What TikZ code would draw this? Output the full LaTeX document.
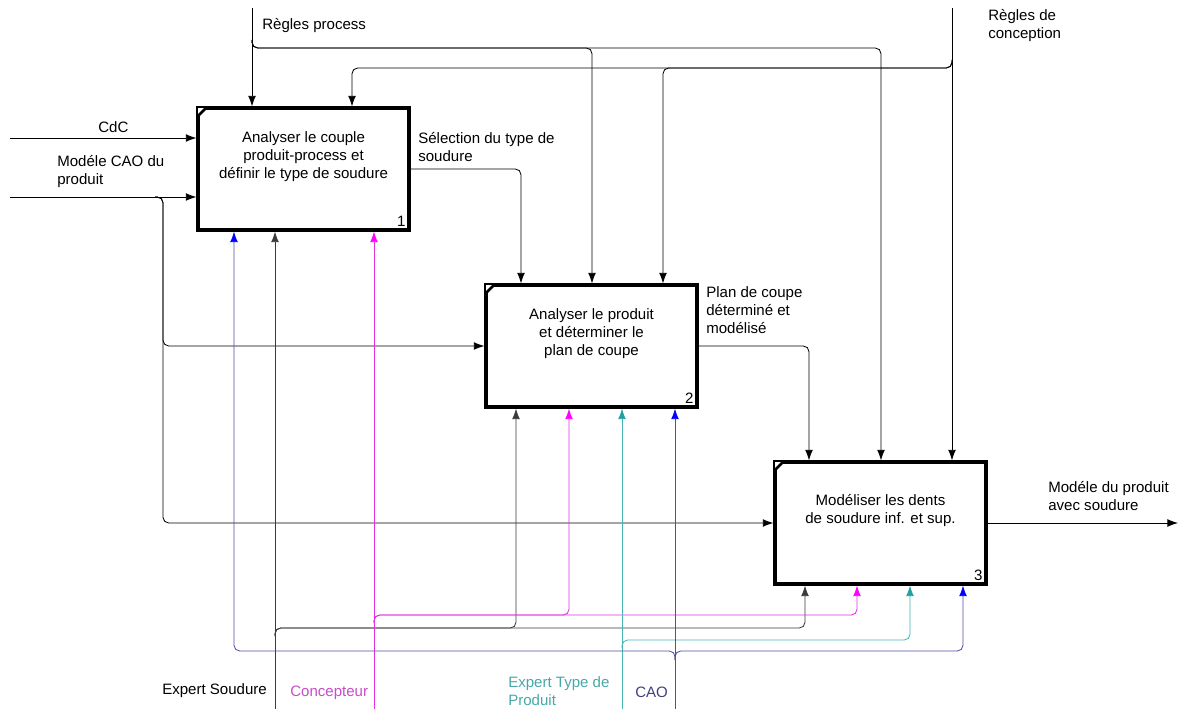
\documentclass[tikz,border=0pt]{standalone}
\usepackage{fontspec}
\setmainfont{Liberation Sans}
\usetikzlibrary{arrows.meta}
\definecolor{mechgray}{HTML}{3A3A3A}
\definecolor{conceptline}{HTML}{E030E0}
\definecolor{concepthead}{HTML}{FF00FF}
\definecolor{concepttext}{HTML}{C84CC8}
\definecolor{typeline}{HTML}{48B4B4}
\definecolor{typehead}{HTML}{20A0A0}
\definecolor{typetext}{HTML}{48A8A8}
\definecolor{caoline}{HTML}{5050A0}
\definecolor{caohead}{HTML}{0000FF}
\definecolor{caotext}{HTML}{404080}
\newcommand{\labelfont}{\fontsize{10.7}{12.8}\selectfont}
\tikzset{
  actbox/.style={draw, line width=2.2pt, minimum width=5.275cm, minimum height=3.05cm, inner sep=0pt},
  acttext/.style={align=center, inner sep=0pt, font=\labelfont},
  actnum/.style={anchor=south east, inner sep=3.5pt, font=\labelfont},
  lbl/.style={anchor=west, align=left, inner sep=0pt, font=\labelfont},
  flow/.style={draw=black, line width=0.6pt, rounded corners=4pt, -{Latex[length=7.5pt,width=5.5pt]}},
  mechflow/.style={flow, draw=mechgray},
  conceptflow/.style={flow, draw=conceptline, -{Latex[length=7.5pt,width=5.5pt,color=concepthead]}},
  typeflow/.style={flow, draw=typeline, -{Latex[length=7.5pt,width=5.5pt,color=typehead]}},
  caoflow/.style={flow, draw=caoline, -{Latex[length=7.5pt,width=5.5pt,color=caohead]}},
}

\begin{document}
\begin{tikzpicture}[x=0.025cm, y=-0.025cm]
    \useasboundingbox (0,0) rectangle (1180,709);
    \node[actbox] (a1) at (303.5,169) {};
    \node[actbox] (a2) at (591.5,346) {};
    \node[actbox] (a3) at (880.5,523) {};
    \foreach \b/\n in {a1/1,a2/2,a3/3} {
      \fill (\b.north west) -- ++(13,0) -- ++(-13,13) -- cycle;
      \fill[white] (\b.north west) ++(1.6,1.6) -- ++(5.8,0) -- ++(-5.8,5.8) -- cycle;
      \node[actnum] (\b num) at (\b.south east) {\n};
    }
    \node[acttext] (t1) at ([yshift=3mm]a1.center) {Analyser le couple\\produit-process et\\définir le type de soudure};
    \node[acttext] (t2) at ([yshift=3mm]a2.center) {Analyser le produit\\et déterminer le\\plan de coupe};
    \node[acttext] (t3) at ([yshift=3mm]a3.center) {Modéliser les dents\\de soudure inf. et sup.};

    \coordinate (cdc) at (10,138);
    \coordinate (modcao) at (10,197);
    \coordinate (rp) at (252,8);
    \coordinate (rc) at (952,8);
    \coordinate (es) at (275,712);
    \coordinate (co) at (374,712);
    \coordinate (et) at (622,712);
    \coordinate (ca) at (675,712);
    \coordinate (out) at (1178,523);

    \draw[flow] (cdc) -- (cdc -| a1.west);
    \draw[flow] (modcao) -- (modcao -| a1.west);
    \draw[flow] (155,197) -- (163,197) -- (163,346) -- (a2.west);
    \draw[flow] (155,197) -- (163,197) -- (163,523) -- (a3.west);

    \draw[flow] (a1.east) -- (521,169) -- (a2.north -| 521,0);
    \draw[flow] (a2.east) -- (809,346) -- (a3.north -| 809,0);
    \draw[flow] (a3.east) -- (out);

    \draw[flow] (rp) -- (rp |- a1.north);
    \draw[flow] (252,40) -- (252,48) -- (592,48) -- (a2.north -| 592,0);
    \draw[flow] (252,40) -- (252,48) -- (881,48) -- (a3.north -| 881,0);
    \draw[flow] (rc) -- (rc |- a3.north);
    \draw[flow] (952,60) -- (952,68) -- (352,68) -- (a1.north -| 352,0);
    \draw[flow] (952,60) -- (952,68) -- (663,68) -- (a2.north -| 663,0);

    \draw[mechflow] (es) -- (es |- a1.south);
    \draw[mechflow] (275,636) -- (275,628) -- (516,628) -- (a2.south -| 516,0);
    \draw[mechflow] (275,636) -- (275,628) -- (805,628) -- (a3.south -| 805,0);
    \draw[conceptflow] (co) -- (co |- a1.south);
    \draw[conceptflow] (374,623) -- (374,615) -- (569,615) -- (a2.south -| 569,0);
    \draw[conceptflow] (374,623) -- (374,615) -- (857,615) -- (a3.south -| 857,0);
    \draw[typeflow] (et) -- (et |- a2.south);
    \draw[typeflow] (622,648) -- (622,640) -- (910,640) -- (a3.south -| 910,0);
    \draw[caoflow] (ca) -- (ca |- a2.south);
    \draw[caoflow] (675,660) -- (675,651) -- (234,651) -- (a1.south -| 234,0);
    \draw[caoflow] (675,660) -- (675,651) -- (963,651) -- (a3.south -| 963,0);

    \node[lbl] (lcdc) at (98,127) {CdC};
    \node[lbl] (lmodcao) at (57,172) {Modéle CAO du\\produit};
    \node[lbl] (lsel) at (418,147) {Sélection du type de\\soudure};
    \node[lbl] (lplan) at (706,310) {Plan de coupe\\déterminé et\\modélisé};
    \node[lbl] (lout) at (1048,496) {Modéle du produit\\avec soudure};
    \node[lbl] (lrp) at (262,26) {Règles process};
    \node[lbl] (lrc) at (988,26) {Règles de\\conception};
    \node[lbl] (les) at (162,691) {Expert Soudure};
    \node[lbl, text=concepttext] (lco) at (290,693) {Concepteur};
    \node[lbl, text=typetext] (let) at (508,691) {Expert Type de\\Produit};
    \node[lbl, text=caotext] (lca) at (635,692) {CAO};
  \end{tikzpicture}
\end{document}
